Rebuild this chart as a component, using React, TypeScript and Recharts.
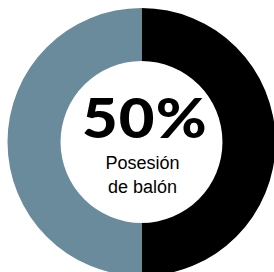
import React from "react";
import { PieChart, Pie, Cell } from "recharts";

const teams = ["Rival", "Equipo"];
const possession = [50, 50];
const colors = ["#000000", "#698b9b"];
const headline = "50%";
const captionLines = ["Posesión", "de balón"];

const data = teams.map((name, i) => ({ name, value: possession[i] }));

export default function App() {
  return (
    <div style={{ position: "absolute", left: 0, top: 0, width: 274, height: 272, overflow: "hidden", background: "#fff" }}>
      <PieChart width={274} height={272} margin={{ top: 0, right: 0, bottom: 0, left: 0 }}>
        <Pie
          data={data}
          dataKey="value"
          cx={141.5}
          cy={142}
          innerRadius={81}
          outerRadius={134}
          startAngle={90}
          endAngle={-270}
          stroke="none"
          isAnimationActive={false}
        >
          {data.map((d, i) => (
            <Cell key={d.name} fill={colors[i]} />
          ))}
        </Pie>
      </PieChart>
      <div
        style={{
          position: "absolute",
          left: 0,
          width: 289,
          top: 92,
          textAlign: "center",
          color: "#000",
          fontFamily: "Lato, sans-serif",
          fontSize: 55,
          fontWeight: 900,
          lineHeight: "50px",
          letterSpacing: 1,
          transform: "scaleX(1.12)",
          transformOrigin: "141.5px 0",
        }}
      >
        {headline}
      </div>
      <div
        style={{
          position: "absolute",
          left: 0,
          width: 285,
          top: 151,
          textAlign: "center",
          color: "#000",
          fontFamily: "'Liberation Sans', Arial, sans-serif",
          fontSize: 18,
          lineHeight: "24px",
        }}
      >
        {captionLines.map((l) => (
          <div key={l}>{l}</div>
        ))}
      </div>
    </div>
  );
}
